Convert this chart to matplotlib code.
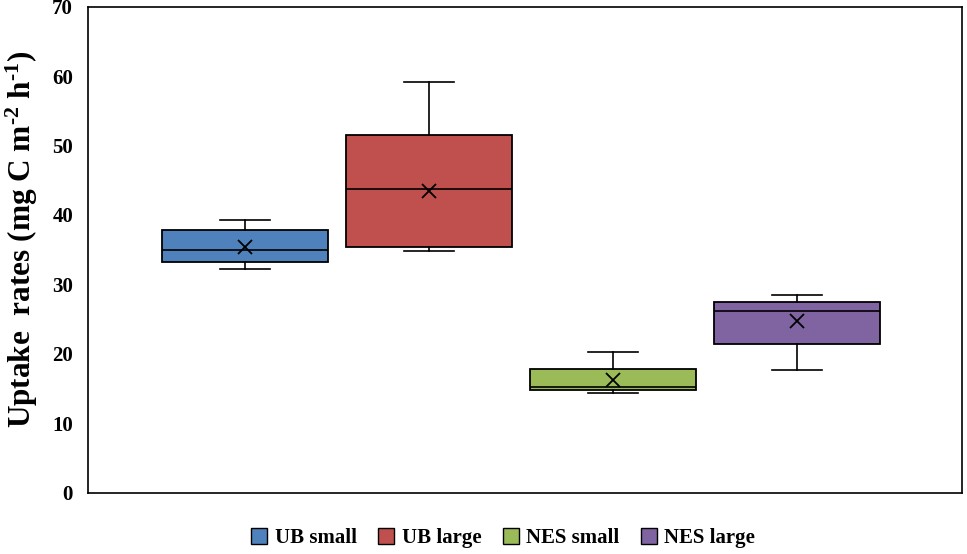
import matplotlib
matplotlib.use("Agg")
import matplotlib.pyplot as plt
from matplotlib.lines import Line2D

plt.rcParams['font.family'] = ['Liberation Serif', 'DejaVu Serif']
plt.rcParams['font.weight'] = 'bold'
plt.rcParams['mathtext.fontset'] = 'custom'
plt.rcParams['mathtext.rm'] = 'Liberation Serif:bold'
plt.rcParams['mathtext.bf'] = 'Liberation Serif:bold'
plt.rcParams['mathtext.it'] = 'Liberation Serif:bold:italic'
plt.rcParams['mathtext.default'] = 'rm'

categories = ["UB small", "UB large", "NES small", "NES large"]
whisker_low = [32.2, 34.8, 14.35, 17.7]
q1 = [33.2, 35.35, 14.75, 21.4]
median = [34.9, 43.75, 15.2, 26.15]
q3 = [37.8, 51.5, 17.75, 27.4]
whisker_high = [39.25, 59.1, 20.25, 28.45]
mean = [35.35, 43.45, 16.2, 24.7]
colors = ["#4F81BD", "#C0504D", "#9BBB59", "#8064A2"]
yticks = [0, 10, 20, 30, 40, 50, 60, 70]

fig = plt.figure(figsize=(9.67, 5.54), dpi=100)
ax = fig.add_axes([88.3/967, 1-492.7/554, (962.3-88.3)/967, (492.7-6.7)/554])

stats = []
for i, c in enumerate(categories):
    stats.append(dict(label=c, whislo=whisker_low[i], q1=q1[i], med=median[i],
                      q3=q3[i], whishi=whisker_high[i], mean=mean[i], fliers=[]))

positions = list(range(1, len(categories) + 1))
bp = ax.bxp(stats, positions=positions, widths=0.9, patch_artist=True,
            showmeans=True, showfliers=False, capwidths=0.27,
            boxprops=dict(linewidth=1.3, edgecolor='black'),
            medianprops=dict(color='black', linewidth=1.2),
            whiskerprops=dict(color='black', linewidth=1.2),
            capprops=dict(color='black', linewidth=1.2),
            meanprops=dict(marker='x', markeredgecolor='black', markersize=10,
                           markeredgewidth=1.3, linestyle='none'))
for patch, col in zip(bp['boxes'], colors):
    patch.set_facecolor(col)

ax.set_xlim(0.148, 4.90)
ax.set_ylim(0, 70)
ax.set_yticks(yticks)
ax.set_yticklabels([str(t) for t in yticks], fontsize=15, fontweight='bold')
ax.tick_params(axis='y', length=0, pad=11)
ax.set_xticks([])
for s in ax.spines.values():
    s.set_linewidth(1.2)

ax.set_ylabel("Uptake  rates (mg C m$^{\u20102}$ h$^{\u20101}$)", fontsize=22.5, fontweight='bold')
ax.yaxis.set_label_coords(-0.0555, (492.7-239)/486)

handles = [Line2D([], [], marker='s', linestyle='none', markersize=12,
                  markerfacecolor=col, markeredgecolor='black', markeredgewidth=1.0)
           for col in colors]
fig.legend(handles, categories, loc='center', bbox_to_anchor=(502/967, 1-538/554),
           ncol=4, frameon=False, handletextpad=0.25,
           columnspacing=0.9, handlelength=1.0, prop=dict(weight='bold', size=15))

fig.savefig("out.png", dpi=100)
